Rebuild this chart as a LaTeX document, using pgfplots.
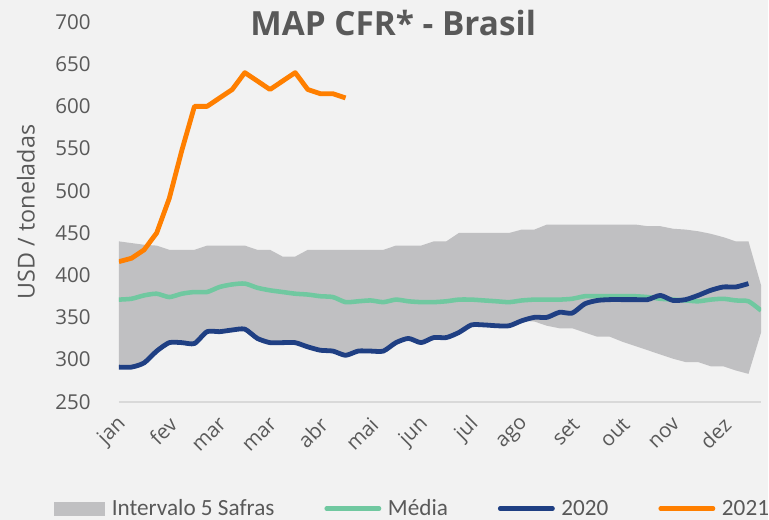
\documentclass[border=0pt]{standalone}
\usepackage{pgfplots}
\pgfplotsset{compat=1.18}
\usepackage{pgfplotstable}
\usepackage{fontspec}
\setmainfont{Open Sans}
\newfontfamily\carlito{Carlito}

\definecolor{bg}{HTML}{F2F2F2}
\definecolor{bandgray}{HTML}{C0C0C2}
\definecolor{media}{HTML}{70C8A0}
\definecolor{navy}{HTML}{1F3F83}
\definecolor{orng}{HTML}{FF7F00}
\definecolor{txt}{HTML}{595959}
\definecolor{axisgray}{HTML}{D9D9D9}

% 5-season interval: upper edge (weeks 0..51) then lower edge (weeks 51..0)
\pgfplotstableread{
x y
0 440
1 438
2 436
3 435
4 430
5 430
6 430
7 435
8 435
9 435
10 435
11 430
12 430
13 422
14 422
15 430
16 430
17 430
18 430
19 430
20 430
21 430
22 435
23 435
24 435
25 440
26 440
27 450
28 450
29 450
30 450
31 450
32 454
33 454
34 460
35 460
36 460
37 460
38 460
39 460
40 460
41 460
42 458
43 458
44 455
45 454
46 452
47 449
48 445
49 440
50 440
51 388
51 332
50 283
49 287
48 292
47 292
46 297
45 297
44 301
43 306
42 311
41 316
40 321
39 327
38 327
37 332
36 337
35 337
34 340
33 345
32 346
31 340
30 340
29 341
28 341
27 332
26 326
25 326
24 320
23 325
22 320
21 310
20 310
19 310
18 305
17 310
16 311
15 315
14 320
13 320
12 320
11 325
10 336
9 335
8 333
7 333
6 319
5 320
4 320
3 310
2 296
1 291
0 291
}\band

\pgfplotstableread{
x y
0 371
1 372
2 376
3 378
4 374
5 378
6 380
7 380
8 386
9 389
10 390
11 385
12 382
13 380
14 378
15 377
16 375
17 374
18 368
19 369
20 370
21 368
22 371
23 369
24 368
25 368
26 369
27 371
28 371
29 370
30 369
31 368
32 370
33 371
34 371
35 371
36 372
37 375
38 375
39 375
40 375
41 375
42 374
43 372
44 371
45 370
46 369
47 371
48 372
49 370
50 369
51 358
}\media

\pgfplotstableread{
x y
0 291
1 291
2 296
3 310
4 320
5 320
6 319
7 333
8 333
9 335
10 336
11 325
12 320
13 320
14 320
15 315
16 311
17 310
18 305
19 310
20 310
21 310
22 320
23 325
24 320
25 326
26 326
27 332
28 341
29 341
30 340
31 340
32 346
33 350
34 350
35 356
36 355
37 366
38 370
39 371
40 371
41 371
42 371
43 376
44 370
45 371
46 376
47 382
48 386
49 386
50 390
}\yearA

\pgfplotstableread{
x y
0 416
1 420
2 430
3 450
4 491
5 548
6 600
7 600
8 610
9 620
10 640
11 630
12 620
13 630
14 640
15 620
16 615
17 615
18 610
}\yearB

\begin{document}
\begin{tikzpicture}
\fill[bg] (0,0) rectangle (576.75bp,390bp);
\node[anchor=base, font=\fontsize{25bp}{30bp}\selectfont\bfseries, text=txt, inner sep=0pt] at (295.1bp,363bp) {MAP CFR* - Brasil};
\begin{axis}[
  at={(89.25bp,88.5bp)}, anchor=south west,
  scale only axis, width=481.95bp, height=285bp,
  xmin=0, xmax=51, ymin=250, ymax=700,
  ytick={250,300,...,700},
  xtick={0,4,...,48},
  xticklabels={jan,fev,mar,mar,abr,mai,jun,jul,ago,set,out,nov,dez},
  major tick length=0,
  axis x line*=bottom, axis y line*=left,
  x axis line style={draw=axisgray, line width=1.5bp, -},
  y axis line style={draw=none},
  tick label style={font=\fontsize{15.4bp}{18bp}\selectfont, text=txt},
  /pgf/number format/assume math mode=true,
  yticklabel style={inner sep=0pt, xshift=-21bp},
  xticklabel style={inner sep=0pt, xshift=3bp, yshift=-14.5bp, rotate=45, anchor=east},
  ylabel={USD / toneladas},
  ylabel style={at={(axis description cs:-0.1447,0.5)}, anchor=center, font=\fontsize{17.5bp}{20bp}\selectfont, text=txt},
  legend columns=4,
  legend style={at={(axis description cs:-0.1012,-0.2816)}, anchor=west, draw=none, fill=none, inner sep=0pt,
    font=\carlito\fontsize{17.4bp}{20bp}\selectfont, text=txt, nodes={inner sep=0pt},
    /tikz/every odd column/.append style={column sep=5bp},
    /tikz/every even column/.append style={column sep=37.5bp}},
]
\addplot[fill=bandgray, draw=none,
  legend image code/.code={\fill[bandgray] (0bp,-5.25bp) rectangle (38.25bp,5.25bp);}]
  table[x=x,y=y]{\band};
\addlegendentry{Intervalo 5 Safras}
\addplot[media, line width=3.4bp, smooth, tension=0.4, line join=round,
  legend image code/.code={\draw[media, line width=3.4bp, line cap=round] (1.7bp,0) -- (41bp,0);}]
  table[x=x,y=y]{\media};
\addlegendentry{Média}
\addplot[navy, line width=3.6bp, smooth, tension=0.4, line join=round,
  legend image code/.code={\draw[navy, line width=3.4bp, line cap=round] (1.7bp,0) -- (41bp,0);}]
  table[x=x,y=y]{\yearA};
\addlegendentry{2020}
\addplot[orng, line width=3.6bp, line join=round,
  legend image code/.code={\draw[orng, line width=3.4bp, line cap=round] (1.7bp,0) -- (41bp,0);}]
  table[x=x,y=y]{\yearB};
\addlegendentry{2021}
\end{axis}
\end{tikzpicture}
\end{document}
